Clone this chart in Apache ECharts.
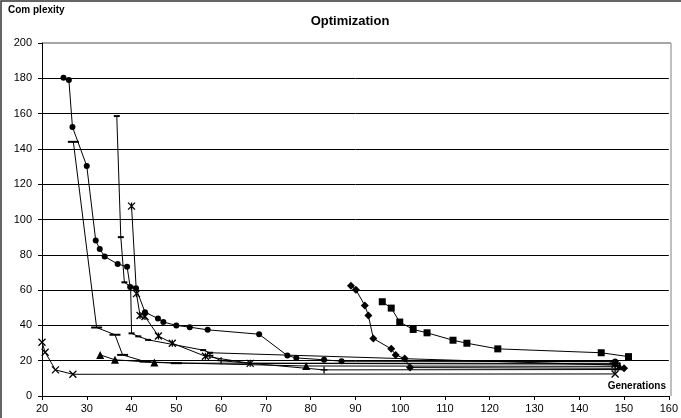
<!DOCTYPE html>
<html><head><meta charset="utf-8">
<script src="https://cdn.jsdelivr.net/npm/echarts@6/dist/echarts.min.js"></script>
<style>html,body{margin:0;padding:0;background:#fff}#c{width:681px;height:418px}</style>
</head><body><div id="c"></div>
<script>
var xTicks = [20,30,40,50,60,70,80,90,100,110,120,130,140,150,160];
var yTicks = [0,20,40,60,80,100,120,140,160,180,200];
var circles = [[24.8,180.3],[26,179],[26.8,152.4],[30,130.3],[32,88.1],[32.9,83.3],[34,79],[36.9,74.8],[39,73.3],[39.7,61.7],[41,61],[43,47.5],[45.9,43.9],[47.1,41.9],[50,40],[53,39],[57,37.5],[68.5,35],[74.8,22.9],[76.8,21.6],[83,20.5],[86.9,19.7],[148,19.5]];
var diamonds = [[89,62.5],[90.1,60.2],[92.1,51.3],[92.9,45.6],[94,32.6],[98,26.7],[99,23.3],[101,21.2],[102.2,16.1],[150,15.7]];
var squares = [[96,53.4],[98,49.8],[99.9,41.9],[102.9,37.7],[106,35.8],[111.8,31.6],[114.9,29.9],[121.8,26.7],[144.9,24.5],[151,22.3]];
var triangles = [[33,23.3],[36.3,20.5],[45.1,19],[79,17],[149,16.8]];
var crosses = [[20,30.5],[20.7,24.8],[23,14.8],[26.9,12.3],[148,12.5]];
var stars = [[40,107.6],[41.1,58],[41.9,45.6],[43,45],[46,34],[49.1,29.9],[56.5,22.5],[66.5,18.5],[148,18]];
var shortDash = [[36.7,158.6],[37.6,90],[38.4,64.4],[39.8,62],[40,35.5],[41.5,33.8],[43.7,31.8],[56,26],[57.5,24.5],[148,17.5]];
var longDash = [[27,144],[32.2,38.8],[36.3,34.7],[38,23.3],[43,19.5],[50,18.6],[148,18.5]];
var pluses = [[57.5,23],[60,20],[83,14.8],[148,15]];

var chart = echarts.init(document.getElementById('c'));
var FONT = '"Liberation Sans", Arial, sans-serif';
function S(data, symbol, size, stroke){
  return {type:'line', data:data, symbol:symbol, symbolSize:size, showSymbol:true,
    lineStyle:{color:'#000', width:1}, animation:false,
    itemStyle: stroke ? {color:'#000', borderColor:'#000', borderWidth:1.3} : {color:'#000', borderWidth:0},
    emphasis:{disabled:true}, z: 3};
}
chart.setOption({
  animation:false,
  backgroundColor:'#fff',
  title:{text:'Optimization', left:345, top:10, textAlign:'center',
    textStyle:{fontFamily:FONT, fontSize:13, fontWeight:'bold', color:'#000'}},
  grid:{left:42, right:10, top:43, bottom:22},
  xAxis:{type:'value', min:20, max:160, interval:10,
    axisLine:{lineStyle:{color:'#000', width:1}},
    axisTick:{show:true, inside:false, length:4, lineStyle:{color:'#000'}},
    axisLabel:{color:'#000', fontFamily:FONT, fontSize:11, margin:7},
    splitLine:{show:false}},
  yAxis:{type:'value', min:0, max:200, interval:20,
    axisLine:{show:true, lineStyle:{color:'#000', width:1}},
    axisTick:{show:true, inside:false, length:4, lineStyle:{color:'#000'}},
    axisLabel:{color:'#000', fontFamily:FONT, fontSize:11, margin:10},
    splitLine:{show:true, showMaxLine:false, lineStyle:{color:'#000', width:1}}},
  graphic:[
    {type:'rect', shape:{x:1, y:1, width:720, height:460}, style:{fill:'none', stroke:'#333', lineWidth:1.5}, silent:true},
    {type:'line', shape:{x1:42, y1:43, x2:671, y2:43}, style:{stroke:'#888', lineWidth:1.5}, silent:true},
    {type:'line', shape:{x1:671, y1:43, x2:671, y2:396}, style:{stroke:'#aaa', lineWidth:1.5}, silent:true},
    {type:'text', left:8, top:5, style:{text:'Com plexity', font:'bold 10px '+FONT, fill:'#000'}},
    {type:'text', right:15, top:381, style:{text:'Generations', font:'bold 10px '+FONT, fill:'#000'}}
  ],
  series:[
    S(diamonds,'diamond',8,false),
    S(squares,'rect',7,false),
    S(triangles,'triangle',8,false),
    S(crosses,'path://M0,0L10,10M10,0L0,10',7,true),
    S(stars,'path://M0,0L10,10M10,0L0,10M5,0L5,10',7,true),
    S(circles,'circle',6,false),
    S(pluses,'path://M0,5L10,5M5,0L5,10',7,true),
    {type:'line', data:shortDash, symbol:'rect', symbolSize:[6,2], lineStyle:{color:'#000',width:1}, itemStyle:{color:'#000'}, animation:false},
    {type:'line', data:longDash, symbol:'rect', symbolSize:[11,2], lineStyle:{color:'#000',width:1}, itemStyle:{color:'#000'}, animation:false}
  ]
});
</script></body></html>
